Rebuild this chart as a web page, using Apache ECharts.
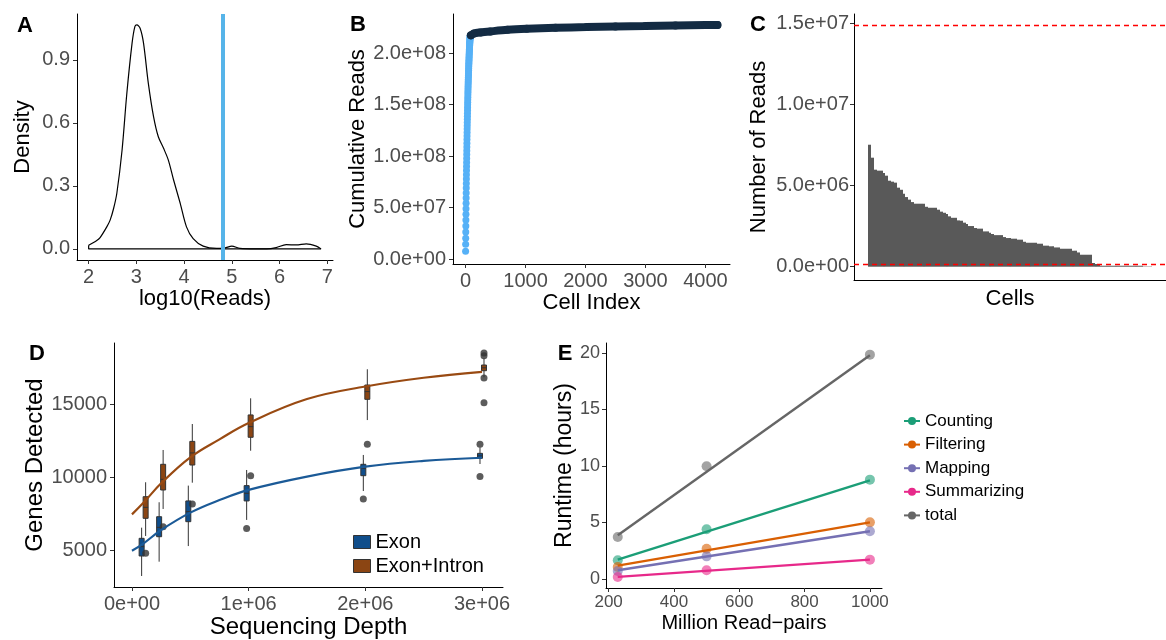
<!DOCTYPE html>
<html>
<head>
<meta charset="utf-8">
<script src="https://cdn.jsdelivr.net/npm/echarts@6/dist/echarts.min.js"></script>
<style>
  html, body { margin: 0; padding: 0; background: #fff; }
  #chart { width: 1166px; height: 640px; }
</style>
</head>
<body>
<div id="chart"></div>
<script>
// ---- A: density of log10(reads) ----
var densX = [2.00, 2.17, 2.24, 2.38, 2.45, 2.52, 2.59, 2.70, 2.80, 2.91, 2.97, 3.01, 3.08, 3.15, 3.25, 3.36, 3.46, 3.57, 3.67, 3.78, 3.92, 4.05, 4.19, 4.40, 4.68, 4.85, 5.00, 5.17, 5.50, 5.73, 5.93, 6.14, 6.35, 6.56, 6.77, 6.87];
var densY = [0.017, 0.040, 0.054, 0.105, 0.137, 0.190, 0.264, 0.470, 0.740, 0.980, 1.060, 1.067, 1.050, 0.980, 0.790, 0.630, 0.534, 0.479, 0.423, 0.328, 0.216, 0.105, 0.049, 0.013, 0.002, 0.004, 0.013, 0.002, 0.000, 0.000, 0.006, 0.020, 0.019, 0.024, 0.013, 0.000];
var readCutoff = 4.8;

// ---- C: reads per cell (top cells), B uses the same cells ----
var cellReads = [
  7.53e6, 6.73e6, 5.99e6, 5.93e6, 5.93e6, 5.78e6, 5.62e6, 5.31e6, 5.25e6, 5.19e6,
  4.88e6, 4.75e6, 4.51e6, 4.30e6, 4.14e6, 3.99e6, 3.89e6, 3.89e6, 3.89e6, 3.89e6,
  3.70e6, 3.64e6, 3.64e6, 3.64e6, 3.52e6, 3.40e6, 3.33e6, 3.25e6, 3.11e6, 3.02e6,
  3.02e6, 2.86e6, 2.84e6, 2.72e6, 2.63e6, 2.51e6, 2.51e6, 2.39e6, 2.35e6, 2.35e6,
  2.18e6, 2.18e6, 2.10e6, 2.02e6, 1.95e6, 1.95e6, 1.95e6, 1.83e6, 1.77e6, 1.77e6,
  1.73e6, 1.73e6, 1.67e6, 1.67e6, 1.54e6, 1.48e6, 1.48e6, 1.48e6, 1.48e6, 1.42e6,
  1.42e6, 1.30e6, 1.30e6, 1.26e6, 1.26e6, 1.19e6, 1.19e6, 1.11e6, 1.11e6, 1.11e6,
  1.11e6, 0.99e6, 0.99e6, 0.88e6, 0.74e6, 0.74e6, 0.74e6, 0.74e6, 0.23e6, 0.16e6,
  0.16e6, 6e4, 6e4, 6e4, 6e4, 6e4, 6e4, 6e4, 6e4, 6e4,
  6e4, 6e4, 6e4, 6e4, 6e4, 6e4, 2e4, 2e4, 2e4
];
var readCap = 1.49e7;
var readFloor = 1.65e5;
var keptCells = 79;

// ---- B: cumulative reads of the remaining (background) cells ----
var bgIndex = [90, 140, 250, 415, 700, 1020, 1500, 2020, 2500, 3000, 3500, 4000, 4200];
var bgCumReads = [2.172e8, 2.19e8, 2.2e8, 2.21e8, 2.225e8, 2.235e8, 2.245e8, 2.252e8, 2.258e8, 2.263e8, 2.268e8, 2.271e8, 2.272e8];

// ---- D: genes detected vs sequencing depth ----
var depths = [1e5, 2.5e5, 5e5, 1e6, 2e6, 3e6];
// [low whisker, Q1, median, Q3, high whisker]
var exonBox = [
  [3220, 4590, 5230, 5800, 6530],
  [4200, 5910, 6550, 7280, 8270],
  [5270, 6940, 7630, 8360, 9410],
  [7060, 8360, 8880, 9410, 10480],
  [9040, 10090, 10590, 10870, 11510],
  [10890, 11280, 11450, 11620, 12030]
];
var intronBox = [
  [5960, 7170, 7920, 8650, 9640],
  [7810, 9110, 9840, 10870, 11850],
  [9610, 10820, 11650, 12440, 13630],
  [11800, 12720, 13450, 14250, 15390],
  [13900, 15320, 15850, 16300, 17380],
  [16830, 17280, 17480, 17670, 18130]
];
var exonOutX = [1e6, 2e6, 3e6, 3e6];
var exonOutY = [6480, 8490, 12240, 10030];
var intronOutX = [1e5, 2.5e5, 5e5, 1e6, 2e6, 3e6, 3e6, 3e6, 3e6];
var intronOutY = [4770, 6600, 8150, 10090, 12240, 18500, 18300, 16780, 15090];
var fitDepth = [0, 1e5, 2.5e5, 5e5, 7.5e5, 1e6, 1.5e6, 2e6, 2.5e6, 3e6];
var exonFit = [4950, 5460, 6370, 7560, 8420, 9120, 10030, 10710, 11100, 11320];
var intronFit = [7440, 8250, 9570, 11350, 12580, 13700, 15340, 16200, 16800, 17200];

// ---- E: runtime vs million read-pairs ----
var readPairs = [228, 500, 1000];
var steps = ['Counting', 'Filtering', 'Mapping', 'Summarizing', 'total'];
var stepColors = ['#1B9E77', '#D95F02', '#7570B3', '#E7298A', '#666666'];
var runtime = [
  [1.65, 4.40, 8.79],
  [1.06, 2.68, 5.01],
  [0.71, 2.00, 4.22],
  [0.18, 0.77, 1.71],
  [3.72, 9.97, 19.85]
];
var fitEnds = [
  [1.71, 8.73],
  [1.18, 5.01],
  [0.77, 4.22],
  [0.18, 1.71],
  [3.86, 19.80]
];

function zip(xs, ys) {
  return xs.map(function (x, i) { return [x, ys[i]]; });
}
function sci(d) {
  return function (v) {
    return v.toExponential(d).replace(/e([+-])(\d)$/, function (m, s, n) { return 'e' + s + '0' + n; });
  };
}
function valueAxis(o) {
  return {
    type: 'value', gridIndex: o.grid, min: o.min, max: o.max,
    splitLine: { show: false },
    axisLine: { show: true, onZero: false, lineStyle: { color: '#000', width: 1 } },
    axisTick: { show: !!o.ticks, length: 4, lineStyle: { color: '#333', width: 1 }, customValues: o.ticks },
    axisLabel: { show: !!o.ticks, customValues: o.ticks, formatter: o.fmt, color: '#4d4d4d',
                 fontSize: o.fs || 20, margin: o.margin || 7, fontFamily: 'Liberation Sans' },
    name: o.name, nameLocation: 'middle', nameGap: o.gap,
    nameTextStyle: { color: '#000', fontSize: o.nfs || 22, fontFamily: 'Liberation Sans' }
  };
}
function boxSeries(name, color, boxes, off) {
  return {
    type: 'custom', name: name, xAxisIndex: 3, yAxisIndex: 3, z: 2,
    itemStyle: { color: color },
    data: depths.map(function (d, i) { return [d].concat(boxes[i]); }),
    encode: { x: 0, y: [1, 2, 3, 4, 5] },
    renderItem: function (params, api) {
      var x = api.value(0);
      var lo = api.coord([x, api.value(1)]);
      var q1 = api.coord([x, api.value(2)]);
      var md = api.coord([x, api.value(3)]);
      var q3 = api.coord([x, api.value(4)]);
      var hi = api.coord([x, api.value(5)]);
      var cx = lo[0] + off, w = 5;
      return { type: 'group', children: [
        { type: 'line', shape: { x1: cx, y1: hi[1], x2: cx, y2: lo[1] }, style: { stroke: '#333', lineWidth: 1 } },
        { type: 'rect', shape: { x: cx - w / 2, y: q3[1], width: w, height: q1[1] - q3[1] }, style: { fill: color, stroke: '#333', lineWidth: 1 } },
        { type: 'line', shape: { x1: cx - w / 2, y1: md[1], x2: cx + w / 2, y2: md[1] }, style: { stroke: '#333', lineWidth: 1 } }
      ] };
    }
  };
}

// running total of the kept cells' reads (panel B's light points)
var cumTop = [];
var running = 0;
for (var i = 0; i < keptCells; i++) {
  running += cellReads[i];
  cumTop.push([i + 1, running]);
}

var series = [
  // A
  { type: 'line', xAxisIndex: 0, yAxisIndex: 0, data: zip(densX, densY), smooth: 0.3, showSymbol: false,
    lineStyle: { color: '#000', width: 1.2 } },
  { type: 'line', xAxisIndex: 0, yAxisIndex: 0, showSymbol: false,
    data: [[densX[densX.length - 1], 0], [densX[0], 0], [densX[0], densY[0]]],
    lineStyle: { color: '#000', width: 1.2 },
    markLine: { silent: true, symbol: 'none', label: { show: false }, animation: false,
                lineStyle: { color: '#56B4E9', width: 4, type: 'solid' }, data: [{ xAxis: readCutoff }] } },
  // B
  { type: 'scatter', xAxisIndex: 1, yAxisIndex: 1, data: cumTop, symbolSize: 7,
    itemStyle: { color: '#56B1F7', opacity: 1 } },
  { type: 'line', xAxisIndex: 1, yAxisIndex: 1, data: zip(bgIndex, bgCumReads), smooth: 0.3,
    symbol: 'circle', symbolSize: 8, showSymbol: true,
    itemStyle: { color: '#132B43' }, lineStyle: { color: '#132B43', width: 8, cap: 'round' } },
  // C: one column per cell, edges snapped to whole pixels so neighbours touch
  { type: 'custom', xAxisIndex: 2, yAxisIndex: 2,
    data: cellReads.map(function (v, i) { return [i + 1, v]; }),
    encode: { x: 0, y: 1 },
    renderItem: function (params, api) {
      var x = api.value(0);
      var a = api.coord([x - 0.5, api.value(1)]);
      var b = api.coord([x + 0.5, 0]);
      var x0 = Math.round(a[0]), x1 = Math.round(b[0]);
      return { type: 'rect', shape: { x: x0, y: a[1], width: x1 - x0, height: b[1] - a[1] },
               style: { fill: '#595959', stroke: null } };
    },
    markLine: { silent: true, symbol: 'none', label: { show: false }, animation: false,
                lineStyle: { color: '#FF0000', width: 1.3, type: [5, 4] },
                data: [{ yAxis: readCap }, { yAxis: readFloor }] } },
  // D
  boxSeries('Exon', '#104E8B', exonBox, -2),
  boxSeries('Exon+Intron', '#8B4513', intronBox, 2),
  { type: 'scatter', xAxisIndex: 3, yAxisIndex: 3, data: zip(exonOutX, exonOutY), symbolSize: 7,
    symbolOffset: [-2, 0], itemStyle: { color: '#333' } },
  { type: 'scatter', xAxisIndex: 3, yAxisIndex: 3, data: zip(intronOutX, intronOutY), symbolSize: 7,
    symbolOffset: [2, 0], itemStyle: { color: '#333' } },
  { type: 'line', xAxisIndex: 3, yAxisIndex: 3, data: zip(fitDepth, exonFit), smooth: 0.4, showSymbol: false, z: 5,
    lineStyle: { color: '#1B5A97', width: 2.2 } },
  { type: 'line', xAxisIndex: 3, yAxisIndex: 3, data: zip(fitDepth, intronFit), smooth: 0.4, showSymbol: false, z: 5,
    lineStyle: { color: '#994A12', width: 2.2 } }
];

// E: fitted lines first (legend icons), then points
steps.forEach(function (s, k) {
  series.push({
    type: 'line', name: s, xAxisIndex: 4, yAxisIndex: 4, z: 5,
    data: zip([readPairs[0], readPairs[readPairs.length - 1]], fitEnds[k]),
    showSymbol: false, symbol: 'circle', symbolSize: 10,
    itemStyle: { color: stepColors[k] }, lineStyle: { color: stepColors[k], width: 2.4 }
  });
});
steps.forEach(function (s, k) {
  series.push({
    type: 'scatter', name: s, xAxisIndex: 4, yAxisIndex: 4, z: 3,
    data: zip(readPairs, runtime[k]), symbolSize: 10,
    itemStyle: { color: stepColors[k], opacity: 0.6 }
  });
});

var letterFont = 'bold 22px "Liberation Sans", Arial, sans-serif';
function letter(t, x, y) {
  return { type: 'text', x: x, y: y, style: { text: t, font: letterFont, fill: '#000', align: 'center', verticalAlign: 'middle' } };
}

var option = {
  animation: false,
  backgroundColor: '#fff',
  textStyle: { fontFamily: 'Liberation Sans' },
  grid: [
    { left: 77, top: 14, width: 256, height: 246, outerBoundsMode: 'none' },
    { left: 453, top: 14, width: 277, height: 250, outerBoundsMode: 'none' },
    { left: 854, top: 14, width: 312, height: 266, outerBoundsMode: 'none' },
    { left: 114, top: 343, width: 389, height: 244, outerBoundsMode: 'none' },
    { left: 606, top: 343, width: 276, height: 245, outerBoundsMode: 'none' }
  ],
  xAxis: [
    valueAxis({ grid: 0, min: 1.756, max: 7.12, ticks: [2, 3, 4, 5, 6, 7], fmt: function (v) { return String(v); },
                name: 'log10(Reads)', gap: 15 }),
    valueAxis({ grid: 1, min: -209, max: 4410, ticks: [0, 1000, 2000, 3000, 4000], fmt: function (v) { return String(v); },
                name: 'Cell Index', gap: 22 }),
    valueAxis({ grid: 2, min: 0.5 - 4.95, max: 99.5 + 4.95, name: 'Cells', gap: 8 }),
    valueAxis({ grid: 3, min: -1.54e5, max: 3.18e6, ticks: [0, 1e6, 2e6, 3e6], fmt: sci(0),
                name: 'Sequencing Depth', gap: 25, nfs: 24 }),
    valueAxis({ grid: 4, min: 192, max: 1037, ticks: [200, 400, 600, 800, 1000], fmt: function (v) { return String(v); },
                name: 'Million Read\u2212pairs', gap: 25, fs: 17, nfs: 20, margin: 6 })
  ],
  yAxis: [
    valueAxis({ grid: 0, min: -0.053, max: 1.119, ticks: [0, 0.3, 0.6, 0.9], fmt: function (v) { return v.toFixed(1); },
                name: 'Density', gap: 43 }),
    valueAxis({ grid: 1, min: -4.85e6, max: 2.379e8, ticks: [0, 5e7, 1e8, 1.5e8, 2e8], fmt: sci(1),
                name: 'Cumulative Reads', gap: 84 }),
    valueAxis({ grid: 2, min: -8.2e5, max: 1.56e7, ticks: [0, 5e6, 1e7, 1.5e7], fmt: sci(1),
                name: 'Number of Reads', gap: 84, margin: 5 }),
    valueAxis({ grid: 3, min: 2466, max: 19178, ticks: [5000, 10000, 15000], fmt: function (v) { return String(v); },
                name: 'Genes Detected', gap: 66, nfs: 24 }),
    valueAxis({ grid: 4, min: -0.8, max: 20.88, ticks: [0, 5, 10, 15, 20], fmt: function (v) { return String(v); },
                name: 'Runtime (hours)', gap: 29, fs: 18, nfs: 23, margin: 6 })
  ],
  legend: [
    { data: [{ name: 'Exon', icon: 'rect' }, { name: 'Exon+Intron', icon: 'rect' }],
      left: 353, top: 532, orient: 'vertical', padding: 0, itemWidth: 17, itemHeight: 13, itemGap: 4,
      selectedMode: false, itemStyle: { borderColor: '#333', borderWidth: 1 },
      textStyle: { fontSize: 20, lineHeight: 20, color: '#000', fontFamily: 'Liberation Sans' } },
    { data: steps, left: 903, top: 411, orient: 'vertical', padding: 0, itemWidth: 16, itemHeight: 10, itemGap: 3.6,
      selectedMode: false,
      textStyle: { fontSize: 17, lineHeight: 20, color: '#000', fontFamily: 'Liberation Sans' } }
  ],
  graphic: [
    letter('A', 25, 26), letter('B', 358, 25), letter('C', 758, 25),
    letter('D', 37, 354), letter('E', 565, 354)
  ],
  series: series
};

var chart = echarts.init(document.getElementById('chart'), null, { renderer: 'canvas' });
chart.setOption(option);
</script>
</body>
</html>
